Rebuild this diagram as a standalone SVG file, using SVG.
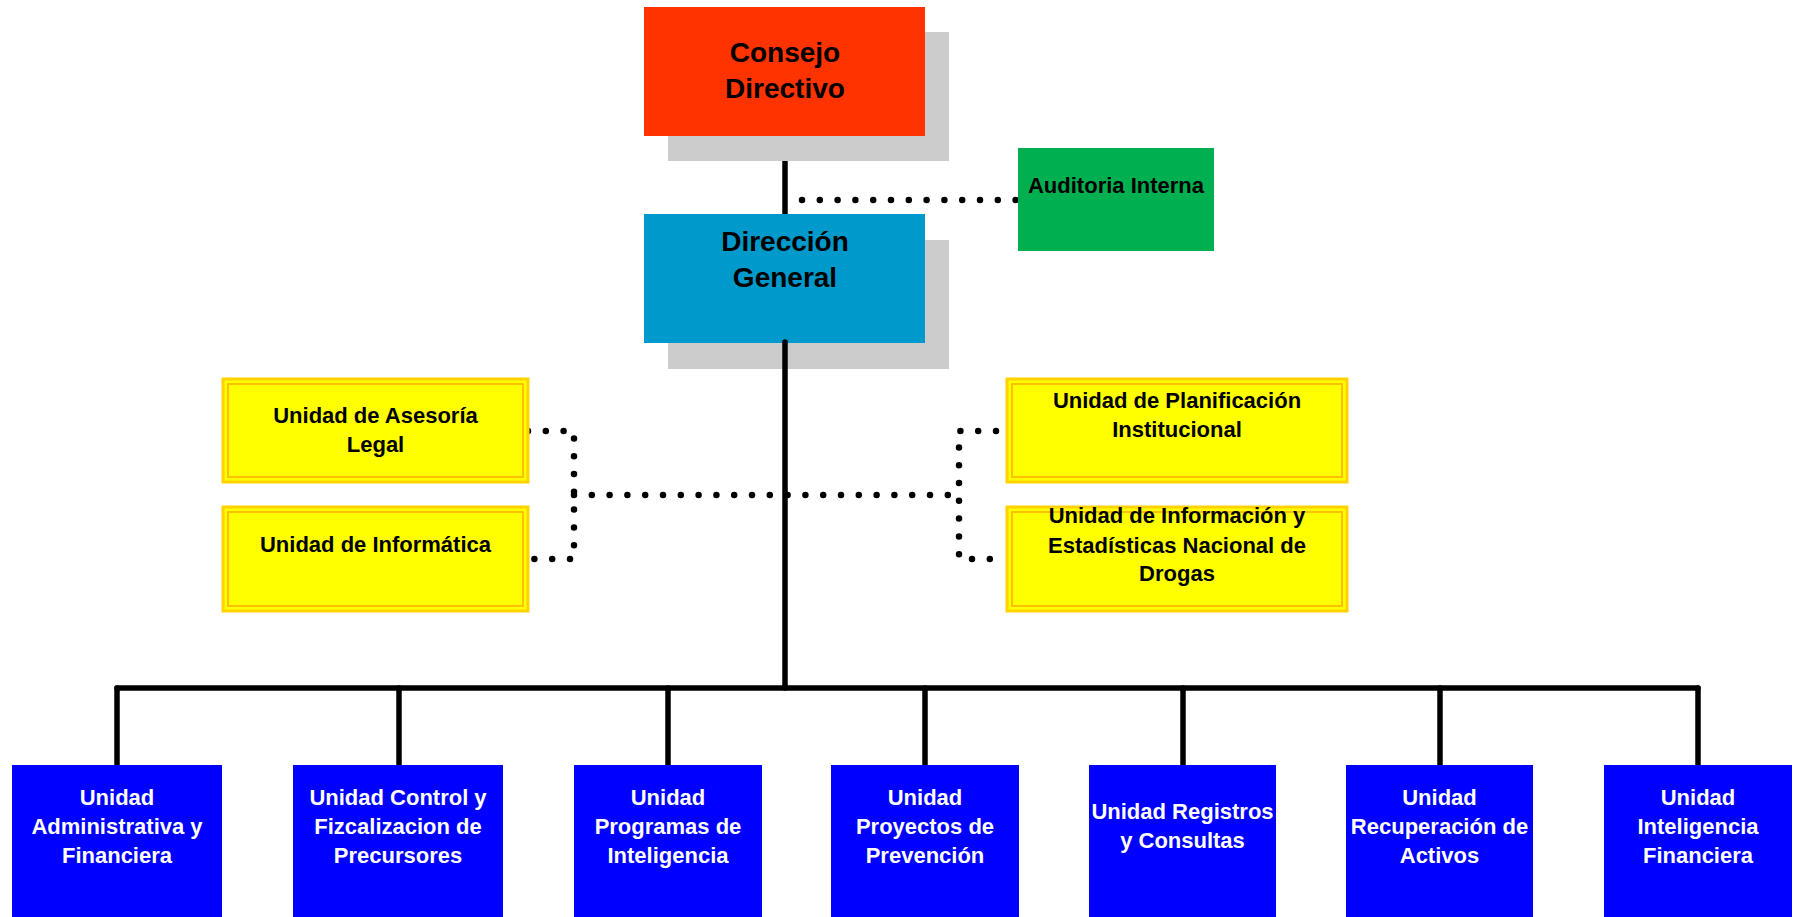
<svg xmlns="http://www.w3.org/2000/svg" width="1798" height="917" viewBox="0 0 1798 917">
<style>
text{font-family:"Liberation Sans",Arial,sans-serif;font-weight:bold;text-anchor:middle}
.t28{font-size:28px;fill:#000}
.t22{font-size:22px;fill:#000}
.w22{font-size:22px;fill:#fff}
.shadow{fill:#CCCCCC}
.blue{fill:#0000FF}
.yel{fill:#FFFF00;stroke:#FFD200;stroke-width:3}
.yin{fill:none;stroke:#FFC000;stroke-width:2}
.solid{stroke:#000;stroke-width:5.5;fill:none;stroke-linecap:round}
.dot{stroke:#000;stroke-width:6.5;fill:none;stroke-linecap:round;stroke-dasharray:0 17.8}
</style>
<rect width="1798" height="917" fill="#fff"/>
<g id="connectors">
<line class="solid" x1="785" y1="161" x2="785" y2="214"/>
<path class="dot" d="M802,200 H1016"/>
<path class="dot" d="M528,431 H574 V559 H528"/>
<path class="dot" d="M996,431 H959 V559 H996"/>
<path class="dot" d="M574,495 H959"/>
</g>
<g id="consejo">
<rect class="shadow" x="668" y="32" width="281" height="129"/>
<rect x="644" y="7" width="281" height="129" fill="#FF3300"/>
<text class="t28" x="785" y="62">Consejo</text>
<text class="t28" x="785" y="98">Directivo</text>
</g>
<g id="direccion">
<rect class="shadow" x="668" y="240" width="281" height="129"/>
<rect x="644" y="214" width="281" height="129" fill="#0099CC"/>
<text class="t28" x="785" y="251">Dirección</text>
<text class="t28" x="785" y="287">General</text>
</g>
<g id="auditoria">
<rect x="1018" y="148" width="196" height="103" fill="#00B050"/>
<text class="t22" x="1116" y="193">Auditoria Interna</text>
</g>
<g id="connectors-tree">
<line class="solid" x1="785" y1="342" x2="785" y2="688"/>
<path class="solid" d="M117,688 H1698"/>
<line class="solid" x1="117" y1="688" x2="117" y2="765"/>
<line class="solid" x1="399" y1="688" x2="399" y2="765"/>
<line class="solid" x1="668" y1="688" x2="668" y2="765"/>
<line class="solid" x1="925" y1="688" x2="925" y2="765"/>
<line class="solid" x1="1183" y1="688" x2="1183" y2="765"/>
<line class="solid" x1="1440" y1="688" x2="1440" y2="765"/>
<line class="solid" x1="1698" y1="688" x2="1698" y2="765"/>
</g>
<g id="asesoria">
<rect class="yel" x="223" y="379" width="305" height="103"/>
<rect class="yin" x="228" y="384" width="295" height="93"/>
<text class="t22" x="375.5" y="423">Unidad de Asesoría</text>
<text class="t22" x="375.5" y="452">Legal</text>
</g>
<g id="informatica">
<rect class="yel" x="223" y="507" width="305" height="104"/>
<rect class="yin" x="228" y="512" width="295" height="94"/>
<text class="t22" x="375.5" y="552">Unidad de Informática</text>
</g>
<g id="planificacion">
<rect class="yel" x="1007" y="379" width="340" height="103"/>
<rect class="yin" x="1012" y="384" width="330" height="93"/>
<text class="t22" x="1177" y="408">Unidad de Planificación</text>
<text class="t22" x="1177" y="437">Institucional</text>
</g>
<g id="estadisticas">
<rect class="yel" x="1007" y="507" width="340" height="104"/>
<rect class="yin" x="1012" y="512" width="330" height="94"/>
<text class="t22" x="1177" y="523">Unidad de Información y</text>
<text class="t22" x="1177" y="553">Estadísticas Nacional de</text>
<text class="t22" x="1177" y="581">Drogas</text>
</g>
<g id="u1">
<rect class="blue" x="12" y="765" width="210" height="152"/>
<text class="w22" x="117" y="805">Unidad</text>
<text class="w22" x="117" y="834">Administrativa y</text>
<text class="w22" x="117" y="863">Financiera</text>
</g>
<g id="u2">
<rect class="blue" x="293" y="765" width="210" height="152"/>
<text class="w22" x="398" y="805">Unidad Control y</text>
<text class="w22" x="398" y="834">Fizcalizacion de</text>
<text class="w22" x="398" y="863">Precursores</text>
</g>
<g id="u3">
<rect class="blue" x="574" y="765" width="188" height="152"/>
<text class="w22" x="668" y="805">Unidad</text>
<text class="w22" x="668" y="834">Programas de</text>
<text class="w22" x="668" y="863">Inteligencia</text>
</g>
<g id="u4">
<rect class="blue" x="831" y="765" width="188" height="152"/>
<text class="w22" x="925" y="805">Unidad</text>
<text class="w22" x="925" y="834">Proyectos de</text>
<text class="w22" x="925" y="863">Prevención</text>
</g>
<g id="u5">
<rect class="blue" x="1089" y="765" width="187" height="152"/>
<text class="w22" x="1182.5" y="819">Unidad Registros</text>
<text class="w22" x="1182.5" y="848">y Consultas</text>
</g>
<g id="u6">
<rect class="blue" x="1346" y="765" width="187" height="152"/>
<text class="w22" x="1439.5" y="805">Unidad</text>
<text class="w22" x="1439.5" y="834">Recuperación de</text>
<text class="w22" x="1439.5" y="863">Activos</text>
</g>
<g id="u7">
<rect class="blue" x="1604" y="765" width="188" height="152"/>
<text class="w22" x="1698" y="805">Unidad</text>
<text class="w22" x="1698" y="834">Inteligencia</text>
<text class="w22" x="1698" y="863">Financiera</text>
</g>
</svg>
